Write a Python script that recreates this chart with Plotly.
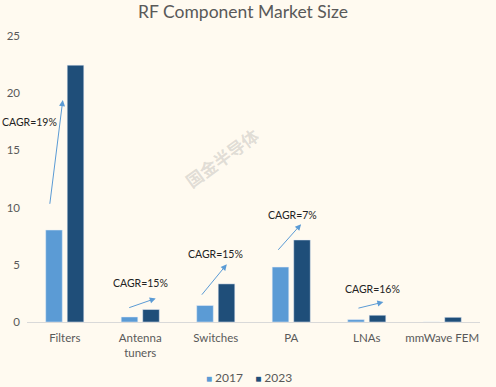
import plotly.graph_objects as go

categories = ["Filters", "Antenna<br>tuners", "Switches", "PA", "LNAs", "mmWave FEM"]
values_2017 = [8.04, 0.44, 1.44, 4.8, 0.21, 0]
values_2023 = [22.45, 1.09, 3.33, 7.17, 0.59, 0.41]
series_names = ["2017", "2023"]
series_colors = ["#5B9BD5", "#1F4E79"]
cagr_labels = ["CAGR=19%", "CAGR=15%", "CAGR=15%", "CAGR=7%", "CAGR=16%"]

FONT = "Lato"
GREY = "#595959"

fig = go.Figure()
for name, vals, col in zip(series_names, [values_2017, values_2023], series_colors):
    fig.add_trace(go.Bar(name=name, x=list(range(6)), y=vals, marker_color=col))

# arrows: (tail_x, tail_y, head_x, head_y), text (x, y)
arrows = [(-0.2, 10.2, -0.026, 19.4), (0.834, 1.21, 1.205, 2.06), (1.80, 2.26, 2.146, 5.04),
          (2.81, 6.18, 3.13, 8.55), (3.87, 1.18, 4.22, 1.74)]
text_pos = [(-0.47, 17.5), (1.0, 3.38), (2.0, 5.92), (3.02, 9.34), (4.07, 2.85)]

for (tx, ty, hx, hy), (lx, ly), lab in zip(arrows, text_pos, cagr_labels):
    fig.add_annotation(x=hx, y=hy, ax=tx, ay=ty, xref="x", yref="y", axref="x", ayref="y",
                       text="", showarrow=True, arrowhead=2, arrowsize=1.2, arrowwidth=1,
                       arrowcolor="#5B9BD5")
    fig.add_annotation(x=lx, y=ly, xref="x", yref="y", text=lab, showarrow=False,
                       font=dict(family=FONT, size=10.5, color="#222222"))

fig.add_annotation(x=2.08, y=14.4, xref="x", yref="y", text="<b>国金半导体</b>", showarrow=False,
                   textangle=-36, font=dict(family="Noto Sans CJK SC", size=17, color="rgba(150,150,150,0.3)"))

# compact legend as text
legend_text = "&nbsp;&nbsp;&nbsp;&nbsp;".join(
    f"<span style='color:{c};font-size:10px'>■</span>&nbsp;{n}" for n, c in zip(series_names, series_colors)
)
fig.add_annotation(x=0.49, y=-0.195, xref="paper", yref="paper", xanchor="center", yanchor="middle",
                   text=legend_text, showarrow=False, font=dict(family=FONT, size=12, color=GREY))

fig.update_layout(
    width=496, height=387,
    paper_bgcolor="#FFFAF0", plot_bgcolor="#FFFAF0",
    margin=dict(l=27, r=16, t=36, b=65, autoexpand=False),
    title=dict(text="RF Component Market Size", x=0.49, xanchor="center", y=0.97, yanchor="middle",
               font=dict(family=FONT, size=17.5, color=GREY)),
    barmode="group", bargap=0.43, bargroupgap=0.23,
    showlegend=False,
    font=dict(family=FONT, color=GREY),
)
fig.update_xaxes(tickmode="array", tickvals=list(range(6)), ticktext=categories, range=[-0.5, 5.5],
                 showgrid=False, showline=True, linecolor="#D9D9D9", linewidth=1, ticks="",
                 tickfont=dict(family=FONT, size=11.5, color=GREY), automargin=False, ticklabelstandoff=5)
fig.update_yaxes(range=[0, 25], dtick=5, showgrid=False, zeroline=False, showline=False,
                 tickfont=dict(family=FONT, size=11.5, color=GREY), ticks="", ticklabelstandoff=6,
                 automargin=False)

fig.write_html("out.html", post_script="document.body.style.margin='0';",
               config={"displayModeBar": False})
